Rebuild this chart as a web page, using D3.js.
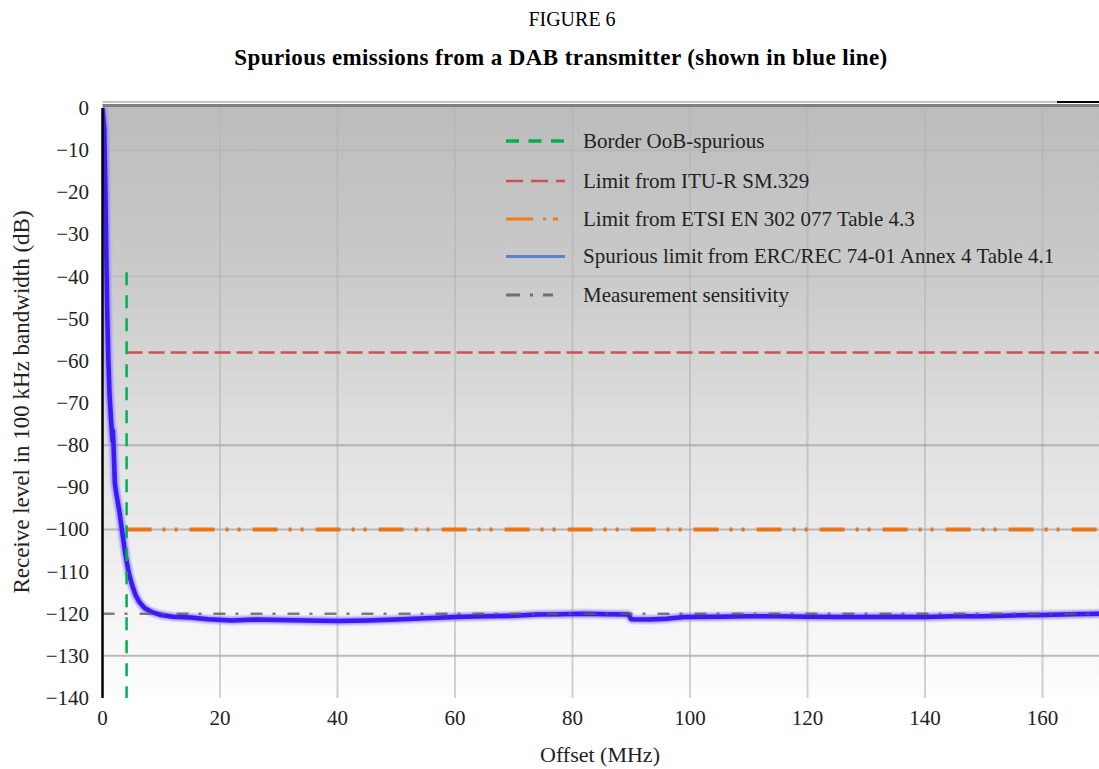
<!DOCTYPE html>
<meta charset="utf-8">
<style>
    body { margin: 0; background: #fff; }
    text { font-family: "Liberation Serif", "Times New Roman", serif; fill: #222; }
</style>
<body>
<script src="https://cdn.jsdelivr.net/npm/d3@7/dist/d3.min.js"></script>
<script>

    var width = 1099;
    var height = 769;

    // ---- data ----
    var xTicks = [0, 20, 40, 60, 80, 100, 120, 140, 160];
    var yTicks = [0, -10, -20, -30, -40, -50, -60, -70, -80, -90, -100, -110, -120, -130, -140];
    var yGrid = [-10, -40, -80, -100, -130];

    var borderOob = 4.1;          // MHz, border OoB / spurious
    var borderTop = -39;          // dB, top of the border marker
    var limitSM329 = -58;         // dB
    var limitEtsi = -100;         // dB
    var sensitivity = -120;       // dB

    // measured spectrum (MHz, dB)
    var spectrum = [
        [0, 0], [0.3, -5], [0.5, -20], [0.65, -35], [0.8, -48], [1.0, -60], [1.2, -68],
        [1.45, -74], [1.6, -77], [1.7, -79], [1.75, -76.5], [1.85, -79], [1.9, -81],
        [2.0, -85], [2.1, -89], [2.3, -91], [2.6, -93.5], [2.9, -96], [3.2, -99],
        [3.5, -102], [3.8, -105], [4.1, -107.5], [4.5, -110.5], [5.0, -113], [5.6, -115.5],
        [6.3, -117.3], [7.2, -118.7], [8.4, -119.6], [10, -120.3], [12, -120.7], [15, -120.9],
        [18, -121.3], [22, -121.6], [26, -121.4], [30, -121.5], [35, -121.6], [40, -121.7],
        [45, -121.6], [50, -121.4], [53, -121.2], [56, -121.0], [60, -120.8], [65, -120.6],
        [70, -120.5], [74, -120.2], [78, -120.1], [82, -120.0], [86, -120.1], [89.5, -120.2],
        [90, -121.3], [93, -121.4], [96, -121.2], [99, -120.8], [105, -120.7], [110, -120.6],
        [115, -120.6], [120, -120.7], [125, -120.8], [130, -120.8], [135, -120.7], [140, -120.8],
        [145, -120.6], [150, -120.6], [155, -120.4], [160, -120.3], [165, -120.1], [170, -120.0]
    ];

    var legendItems = [
        {label: "Border OoB-spurious", color: "#00b050", dash: "13,9.5", w: 3.5},
        {label: "Limit from ITU-R SM.329", color: "#d0504d", dash: "17,8", w: 2.5},
        {label: "Limit from ETSI EN 302 077 Table 4.3", color: "#f07d18", dash: "27,10,3,7,5,100", w: 3},
        {label: "Spurious limit from ERC/REC 74-01 Annex 4 Table 4.1", color: "#5b82d1", dash: null, w: 3},
        {label: "Measurement sensitivity", color: "#707070", dash: "14,10,3,10,10,100", w: 3}
    ];

    // ---- layout ----
    var plotL = 102.5, plotR = 1099, plotT = 107, plotB = 698;

    var x = d3.scaleLinear().domain([0, 160]).range([plotL, plotL + 8 * 117.5]);
    var y = d3.scaleLinear().domain([0, -140]).range([108, 698]);

    var svg = d3.select("body").append("svg")
        .attr("width", width)
        .attr("height", height);

    // background gradient
    var defs = svg.append("defs");
    var grad = defs.append("linearGradient")
        .attr("id", "bg")
        .attr("x1", 0).attr("x2", 0).attr("y1", 0).attr("y2", 1);
    [[0, "#bcbcbc"], [0.3, "#cbcbcb"], [0.55, "#dfdfdf"], [0.8, "#f1f1f1"], [1, "#fdfdfd"]]
        .forEach(function (s) {
            grad.append("stop").attr("offset", s[0]).attr("stop-color", s[1]);
        });
    defs.append("clipPath").attr("id", "clip")
        .append("rect").attr("x", plotL).attr("y", plotT).attr("width", plotR - plotL).attr("height", plotB - plotT);
    defs.append("filter").attr("id", "soft")
        .append("feGaussianBlur").attr("stdDeviation", 1);

    svg.append("rect")
        .attr("x", plotL).attr("y", plotT)
        .attr("width", plotR - plotL).attr("height", plotB - plotT)
        .style("fill", "url(#bg)");

    // top border lines
    svg.append("line")
        .attr("x1", plotL).attr("x2", 1057).attr("y1", 102).attr("y2", 102)
        .style("stroke", "#c4c4c4").style("stroke-width", 2);
    svg.append("line")
        .attr("x1", 1057).attr("x2", plotR).attr("y1", 102).attr("y2", 102)
        .style("stroke", "#000").style("stroke-width", 2);
    svg.append("line")
        .attr("x1", plotL).attr("x2", plotR).attr("y1", 105.5).attr("y2", 105.5)
        .style("stroke", "#7f7f7f").style("stroke-width", 3);

    var plot = svg.append("g").attr("clip-path", "url(#clip)");

    // grid
    plot.selectAll("line.vgrid")
        .data(xTicks.filter(function (d) { return d > 0; }))
        .enter().append("line")
        .attr("class", "vgrid")
        .attr("x1", function (d) { return x(d); })
        .attr("x2", function (d) { return x(d); })
        .attr("y1", plotT).attr("y2", plotB)
        .style("stroke", "#b4b4b4").style("stroke-opacity", 0.6).style("stroke-width", 2);

    plot.selectAll("line.hgrid")
        .data(yGrid)
        .enter().append("line")
        .attr("class", "hgrid")
        .attr("x1", plotL).attr("x2", plotR)
        .attr("y1", function (d) { return y(d); })
        .attr("y2", function (d) { return y(d); })
        .style("stroke", "#a8a8a8").style("stroke-opacity", function (d) { return d < -60 ? 0.8 : 0.35; })
        .style("stroke-width", 2);

    // limits
    plot.append("line")
        .attr("x1", x(borderOob)).attr("x2", plotR)
        .attr("y1", y(limitSM329)).attr("y2", y(limitSM329))
        .style("stroke", "#c9554f").style("stroke-width", 2.5).style("stroke-dasharray", "16,6");

    plot.append("line")
        .attr("x1", x(borderOob)).attr("x2", plotR)
        .attr("y1", y(limitEtsi)).attr("y2", y(limitEtsi))
        .style("stroke", "#ec7414").style("stroke-width", 4).style("stroke-dasharray", "25,11,3,9,3,12");

    // measured spectrum
    var line = d3.line()
        .x(function (d) { return x(d[0]); })
        .y(function (d) { return y(d[1]); });

    plot.append("path")
        .datum(spectrum)
        .attr("d", line)
        .attr("filter", "url(#soft)")
        .style("fill", "none")
        .style("stroke", "#7a66ff").style("stroke-opacity", 0.65)
        .style("stroke-width", 8).style("stroke-linejoin", "round");
    plot.append("path")
        .datum(spectrum)
        .attr("d", line)
        .style("fill", "none")
        .style("stroke", "#3a1af5")
        .style("stroke-width", 4.5).style("stroke-linejoin", "round");

    plot.append("line")
        .attr("x1", plotL).attr("x2", plotR)
        .attr("y1", y(sensitivity)).attr("y2", y(sensitivity))
        .style("stroke", "#5c5c5c").style("stroke-opacity", 0.8)
        .style("stroke-width", 2.5).style("stroke-dasharray", "12,10,3,12");

    // border OoB / spurious
    plot.append("line")
        .attr("x1", x(borderOob)).attr("x2", x(borderOob))
        .attr("y1", y(borderTop)).attr("y2", plotB)
        .style("stroke", "#00b050").style("stroke-width", 2.5).style("stroke-dasharray", "13,10");

    // y axis line
    svg.append("line")
        .attr("x1", plotL).attr("x2", plotL).attr("y1", 108).attr("y2", plotB)
        .style("stroke", "#000").style("stroke-width", 2.5);

    // tick labels
    svg.selectAll("text.ytick")
        .data(yTicks)
        .enter().append("text")
        .attr("class", "ytick")
        .attr("x", 89)
        .attr("y", function (d) { return y(d); })
        .attr("dy", "0.33em")
        .attr("text-anchor", "end")
        .style("font-size", "21px")
        .text(function (d) { return d < 0 ? "\u2212" + (-d) : d; });

    svg.selectAll("text.xtick")
        .data(xTicks)
        .enter().append("text")
        .attr("class", "xtick")
        .attr("x", function (d) { return x(d); })
        .attr("y", 725)
        .attr("text-anchor", "middle")
        .style("font-size", "21px")
        .text(function (d) { return d; });

    // axis titles
    svg.append("text")
        .attr("x", 600).attr("y", 762)
        .attr("text-anchor", "middle")
        .style("font-size", "22px")
        .text("Offset (MHz)");

    svg.append("text")
        .attr("transform", "translate(29,402) rotate(-90)")
        .attr("text-anchor", "middle")
        .style("font-size", "23px")
        .text("Receive level in 100 kHz bandwidth (dB)");

    // titles
    svg.append("text")
        .attr("x", 572).attr("y", 26)
        .attr("text-anchor", "middle")
        .style("font-size", "20px")
        .style("fill", "#000")
        .text("FIGURE 6");

    svg.append("text")
        .attr("x", 561).attr("y", 65)
        .attr("text-anchor", "middle")
        .style("font-size", "23px")
        .style("letter-spacing", "0.4px")
        .style("font-weight", "bold")
        .style("fill", "#000")
        .text("Spurious emissions from a DAB transmitter (shown in blue line)");

    // legend
    var legendY = [141, 181, 219, 256.5, 295];
    var leg = svg.selectAll("g.legend")
        .data(legendItems)
        .enter().append("g")
        .attr("class", "legend")
        .attr("transform", function (d, i) { return "translate(0," + legendY[i] + ")"; });

    leg.append("line")
        .attr("x1", 506).attr("x2", 565)
        .attr("y1", 0).attr("y2", 0)
        .style("stroke", function (d) { return d.color; })
        .style("stroke-width", function (d) { return d.w; })
        .style("stroke-dasharray", function (d) { return d.dash; });

    leg.append("text")
        .attr("x", 583)
        .attr("y", 0)
        .attr("dy", "0.33em")
        .style("font-size", "21px")
        .text(function (d) { return d.label; });

</script>
</body>
</html>
